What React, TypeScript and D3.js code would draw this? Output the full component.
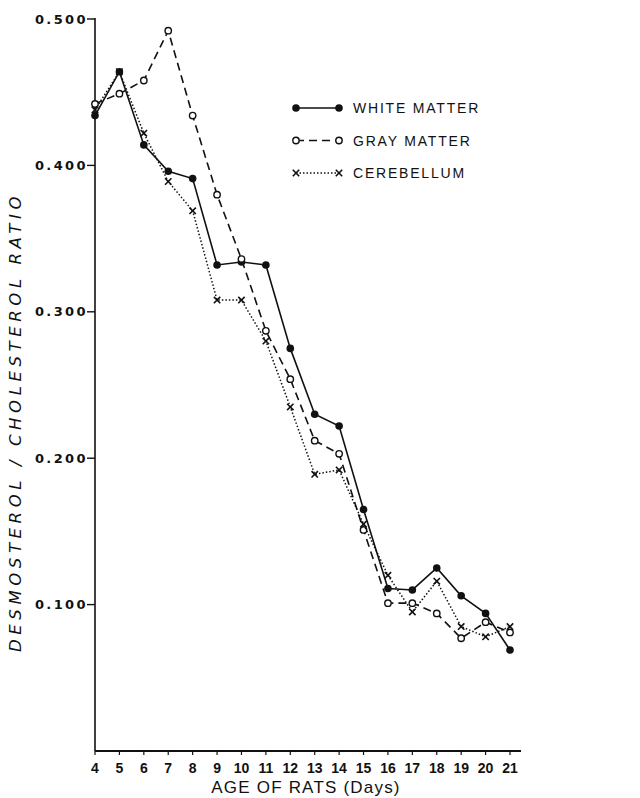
import React from "react";
import * as d3 from "d3";

// Age of rats (days)
const days = [4, 5, 6, 7, 8, 9, 10, 11, 12, 13, 14, 15, 16, 17, 18, 19, 20, 21];

// Desmosterol / cholesterol ratio
const whiteMatter = [0.434, 0.464, 0.414, 0.396, 0.391, 0.332, 0.334, 0.332, 0.275, 0.23, 0.222, 0.165, 0.111, 0.11, 0.125, 0.106, 0.094, 0.069];
const grayMatter = [0.442, 0.449, 0.458, 0.492, 0.434, 0.38, 0.336, 0.287, 0.254, 0.212, 0.203, 0.151, 0.101, 0.101, 0.094, 0.077, 0.088, 0.081];
const cerebellum = [0.438, 0.464, 0.422, 0.389, 0.369, 0.308, 0.308, 0.28, 0.235, 0.189, 0.192, 0.155, 0.12, 0.095, 0.116, 0.085, 0.078, 0.085];

const yTicks = [0.1, 0.2, 0.3, 0.4, 0.5];
const seriesNames = ["WHITE MATTER", "GRAY MATTER", "CEREBELLUM"];

const width = 640;
const height = 798;
const font = "'Liberation Sans', Arial, sans-serif";
const wideFont = "'DejaVu Sans', sans-serif";

const x = d3.scaleLinear().domain([4, 21]).range([95, 510]);
const y = d3.scaleLinear().domain([0, 0.5]).range([751, 19]);

const line = d3
  .line<number>()
  .x((_, i) => x(days[i]))
  .y((d) => y(d));

const series = [
  { name: seriesNames[0], values: whiteMatter, dash: null, marker: "filled" },
  { name: seriesNames[1], values: grayMatter, dash: "8,5", marker: "open" },
  { name: seriesNames[2], values: cerebellum, dash: "1.5,2", marker: "cross" },
];

const Marker = ({ cx, cy, kind }: { cx: number; cy: number; kind: string }) => {
  if (kind === "filled") return <circle cx={cx} cy={cy} r={3.8} fill="#111" />;
  if (kind === "open")
    return <circle cx={cx} cy={cy} r={3.2} fill="#fff" stroke="#111" strokeWidth={1.4} />;
  const s = 3.2;
  return (
    <g stroke="#111" strokeWidth={1.6}>
      <line x1={cx - s} y1={cy - s} x2={cx + s} y2={cy + s} />
      <line x1={cx - s} y1={cy + s} x2={cx + s} y2={cy - s} />
    </g>
  );
};

export default function App() {
  return (
    <svg
      width={width}
      height={height}
      style={{ position: "absolute", left: 0, top: 0, background: "#fff" }}
    >
      {/* axes */}
      <line x1={x(4)} y1={y(0.5) - 1} x2={x(4)} y2={y(0)} stroke="#111" strokeWidth={1.6} />
      <line x1={x(4)} y1={y(0)} x2={x(21) + 11} y2={y(0)} stroke="#111" strokeWidth={1.8} />

      {yTicks.map((t) => (
        <g key={t}>
          <line x1={x(4) - 8} x2={x(4)} y1={y(t)} y2={y(t)} stroke="#111" strokeWidth={1.4} />
          <text
            x={x(4) - 7}
            y={y(t)}
            dy="0.36em"
            textAnchor="end"
            fontFamily={wideFont}
            fontSize={13}
            fontWeight="bold"
            letterSpacing={2.4}
            fill="#111"
          >
            {t.toFixed(3)}
          </text>
        </g>
      ))}

      {days.map((d) => (
        <g key={d}>
          <line x1={x(d)} x2={x(d)} y1={y(0)} y2={y(0) + 4} stroke="#111" strokeWidth={1.2} />
          <text
            x={x(d)}
            y={y(0) + 22}
            textAnchor="middle"
            fontFamily={font}
            fontSize={14}
            fontWeight="bold"
            fill="#111"
          >
            {d}
          </text>
        </g>
      ))}

      <text
        x={306}
        y={793}
        textAnchor="middle"
        fontFamily={font}
        fontSize={17}
        letterSpacing={1.2}
        fill="#111"
      >
        AGE OF RATS (Days)
      </text>

      <text
        transform={`translate(21,422) rotate(-90)`}
        textAnchor="middle"
        fontFamily={wideFont}
        fontSize={16.5}
        fontStyle="italic"
        letterSpacing={4.6}
        fill="#111"
      >
        DESMOSTEROL / CHOLESTEROL  RATIO
      </text>

      {/* series */}
      {series.map((s) => (
        <g key={s.name}>
          <path
            d={line(s.values) ?? ""}
            fill="none"
            stroke="#111"
            strokeWidth={s.marker === "cross" ? 1.5 : 1.6}
            strokeDasharray={s.dash ?? undefined}
          />
          {s.values.map((v, i) => (
            <Marker key={i} cx={x(days[i])} cy={y(v)} kind={s.marker} />
          ))}
        </g>
      ))}

      {/* legend */}
      {series.map((s, i) => {
        const ly = 108 + i * 32.5;
        return (
          <g key={s.name}>
            <line
              x1={296}
              x2={339}
              y1={ly}
              y2={ly}
              stroke="#111"
              strokeWidth={1.6}
              strokeDasharray={s.dash ?? undefined}
            />
            <Marker cx={296} cy={ly} kind={s.marker} />
            <Marker cx={339} cy={ly} kind={s.marker} />
            <text
              x={353}
              y={ly}
              dy="0.36em"
              fontFamily={font}
              fontSize={14}
              letterSpacing={1.8}
              fill="#111"
            >
              {s.name}
            </text>
          </g>
        );
      })}
    </svg>
  );
}
